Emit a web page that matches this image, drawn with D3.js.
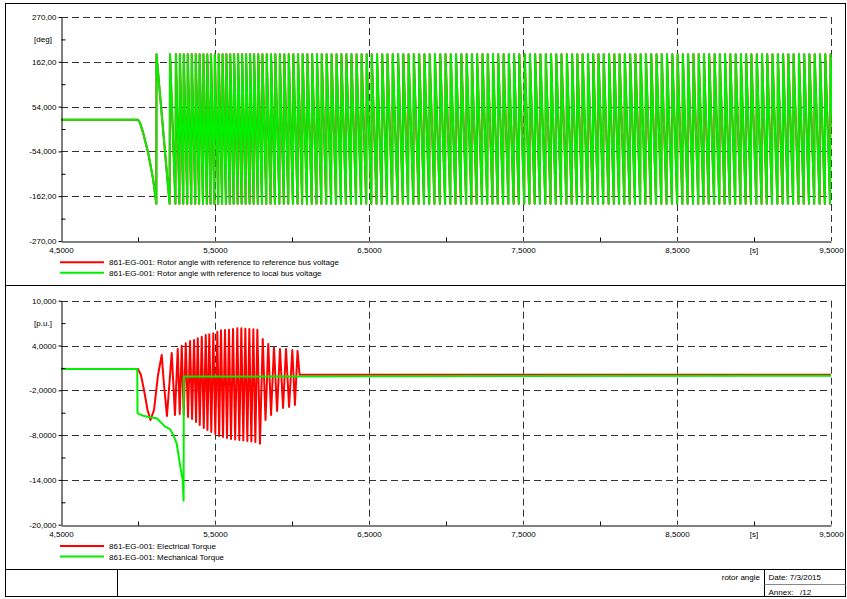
<!DOCTYPE html>
<html><head><meta charset="utf-8">
<script src="https://cdn.jsdelivr.net/npm/d3@7"></script>
<style>html,body{margin:0;padding:0;background:#fff;} svg{display:block;font-family:"Liberation Sans",Arial,sans-serif;}</style>
</head><body><svg id="c" width="847" height="599"></svg>
<script>
// ---------------- DATA ----------------
const xTicks = [4.5, 5.5, 6.5, 7.5, 8.5, 9.5];
const xTickLabels = ["4,5000", "5,5000", "6,5000", "7,5000", "8,5000", "9,5000"];
const xMinorTicks = [5.0, 6.0, 7.0, 8.0, 9.0];
const xUnitLabel = "[s]";
const xUnitAt = 9.0;

const angleTicks = [-270, -162, -54, 54, 162, 270];
const angleTickLabels = ["-270,00", "-162,00", "-54,000", "54,000", "162,00", "270,00"];
const angleMinorTicks = [-216, -108, 0, 108, 216];
const angleUnit = "[deg]";
const angleUnitAt = 216;

const torqueTicks = [-20, -14, -8, -2, 4, 10];
const torqueTickLabels = ["-20,000", "-14,000", "-8,0000", "-2,0000", "4,0000", "10,000"];
const torqueMinorTicks = [-17, -11, -5, 1, 7];
const torqueUnit = "[p.u.]";
const torqueUnitAt = 7;

// rotor angle: pre-slip part [t, deg]
const angleStart = [[4.5, 22], [5.0, 22], [5.013, 15], [5.034, -10], [5.067, -59], [5.099, -123], [5.119, -180]];
// rotor angle wraps (+180 -> descends to -180 before next wrap)
const angleWrapTimes = [5.120, 5.208, 5.246, 5.272, 5.297, 5.323, 5.349, 5.375, 5.400, 5.425, 5.450, 5.474, 5.499,
  5.524, 5.549, 5.574, 5.599, 5.624, 5.650, 5.676, 5.702, 5.728, 5.754, 5.781, 5.808, 5.836, 5.864, 5.892, 5.921,
  5.950, 5.979, 6.009, 6.039, 6.069, 6.100, 6.131, 6.162, 6.193, 6.225, 6.257, 6.289, 6.321, 6.353, 6.386, 6.419,
  6.452, 6.485, 6.518, 6.552, 6.586, 6.620, 6.654, 6.689, 6.723, 6.757, 6.791, 6.826, 6.860, 6.894, 6.928, 6.963,
  6.997, 7.031, 7.065, 7.100, 7.134, 7.168, 7.202, 7.237, 7.271, 7.305, 7.339, 7.374, 7.408, 7.442, 7.476, 7.511,
  7.545, 7.579, 7.613, 7.648, 7.682, 7.716, 7.750, 7.785, 7.819, 7.853, 7.887, 7.922, 7.956, 7.990, 8.024, 8.059,
  8.093, 8.127, 8.161, 8.196, 8.230, 8.264, 8.298, 8.333, 8.367, 8.401, 8.435, 8.470, 8.504, 8.538, 8.572, 8.607,
  8.641, 8.675, 8.709, 8.744, 8.778, 8.812, 8.846, 8.881, 8.915, 8.949, 8.983, 9.018, 9.052, 9.086, 9.120, 9.155,
  9.189, 9.223, 9.257, 9.292, 9.326, 9.360, 9.394, 9.429, 9.463, 9.497, 9.531];
const angleLimits = [-180, 180];

// electrical torque [t, p.u.]
const electricalTorque = [[4.5, 0.85], [5.0, 0.85], [5.019, 0.05], [5.039, -1.96], [5.062, -4.64], [5.081, -5.98],
  [5.104, -4.64], [5.130, 0.05], [5.154, 2.73], [5.169, -1.29], [5.188, -5.44], [5.219, 3.0], [5.240, -5.31],
  [5.258, 3.53], [5.271, -5.17], [5.284, 3.97], [5.297, -5.31], [5.310, 4.29], [5.325, -5.58], [5.338, 4.60],
  [5.351, -5.84], [5.364, 4.74], [5.377, -6.25], [5.388, 4.96], [5.401, -6.65], [5.414, 5.18], [5.427, -7.05],
  [5.440, 5.41], [5.451, -7.32], [5.463, 5.50], [5.476, -7.58], [5.489, 5.63], [5.502, -7.85], [5.515, 5.85],
  [5.527, -8.12], [5.539, 6.04], [5.552, -8.25], [5.565, 6.08], [5.578, -8.39], [5.591, 6.12], [5.604, -8.52],
  [5.617, 6.21], [5.631, -8.59], [5.645, 6.30], [5.658, -8.66], [5.671, 6.30], [5.684, -8.72], [5.697, 6.25],
  [5.710, -8.79], [5.723, 6.21], [5.736, -8.86], [5.749, 6.17], [5.762, -8.92], [5.775, 6.12], [5.792, -9.15],
  [5.810, 4.87], [5.828, -5.98], [5.846, 4.20], [5.864, -5.31], [5.883, 3.76], [5.903, -4.77], [5.922, 3.53],
  [5.942, -4.37], [5.961, 3.53], [5.981, -4.24], [6.002, 3.40], [6.019, -3.97], [6.036, 3.26], [6.049, 0.09],
  [9.5, 0.09]];

// mechanical torque [t, p.u.]
const mechanicalTorque = [[4.5, 0.85], [4.995, 0.85], [4.997, -5.08], [5.032, -5.4], [5.078, -5.6], [5.121, -5.75],
  [5.154, -6.4], [5.175, -6.87], [5.208, -7.2], [5.229, -7.99], [5.251, -9.1], [5.273, -12.0], [5.290, -14.0],
  [5.296, -16.8], [5.2975, -0.15], [9.5, -0.05]];

const topLegend = ["861-EG-001: Rotor angle with reference to reference bus voltage",
                   "861-EG-001: Rotor angle with reference to local bus voltage"];
const bottomLegend = ["861-EG-001: Electrical Torque", "861-EG-001: Mechanical Torque"];
const seriesColors = ["#ff0000", "#00f000"];
const footerTitle = "rotor angle";
const footerDate = "Date: 7/3/2015";
const footerAnnex = "Annex:   /12";

// ---------------- LAYOUT ----------------
const svg = d3.select("#c");
const L = 61, R = 831;
const top1 = 17, bot1 = 241, top2 = 300.7, bot2 = 524.7;
const FS = 8;
const x = d3.scaleLinear().domain([4.5, 9.5]).range([L, R]);
const yA = d3.scaleLinear().domain([-270, 270]).range([bot1, top1]);
const yT = d3.scaleLinear().domain([-20, 10]).range([bot2, top2]);

// frame
const fr = svg.append("g").attr("fill", "none").attr("stroke", "#000").attr("stroke-width", 1);
fr.append("rect").attr("x", 5.5).attr("y", 3.5).attr("width", 840).attr("height", 593);
fr.append("line").attr("x1", 5.5).attr("x2", 845.5).attr("y1", 285.5).attr("y2", 285.5);
fr.append("line").attr("x1", 5.5).attr("x2", 845.5).attr("y1", 569.5).attr("y2", 569.5);
fr.append("line").attr("x1", 117.5).attr("x2", 117.5).attr("y1", 569.5).attr("y2", 596.5);
fr.append("line").attr("x1", 764.5).attr("x2", 764.5).attr("y1", 569.5).attr("y2", 596.5);
fr.append("line").attr("x1", 764.5).attr("x2", 845.5).attr("y1", 584.5).attr("y2", 584.5).attr("stroke", "#888");

svg.append("text").attr("x", 760).attr("y", 580).attr("text-anchor", "end").attr("font-size", FS).text(footerTitle);
svg.append("text").attr("x", 768.5).attr("y", 580).attr("font-size", FS).text(footerDate);
svg.append("text").attr("x", 768.5).attr("y", 595).attr("font-size", FS).style("white-space", "pre").attr("xml:space", "preserve").text(footerAnnex);

function panel(y, top, bot, ticks, labels, minor, unit, unitAt, series, legend, legendY, id) {
  const g = svg.append("g");
  // grid
  const grid = g.append("g").attr("stroke", "#333").attr("stroke-width", 1).attr("stroke-dasharray", "7,4");
  ticks.slice(1).forEach(v => {
    grid.append("line").attr("x1", L).attr("x2", R).attr("y1", Math.round(y(v)) + 0.5).attr("y2", Math.round(y(v)) + 0.5);
  });
  xTicks.slice(1).forEach(v => {
    grid.append("line").attr("x1", Math.round(x(v)) + 0.5).attr("x2", Math.round(x(v)) + 0.5).attr("y1", top).attr("y2", bot);
  });
  // series
  g.append("clipPath").attr("id", "clip" + id).append("rect").attr("x", L).attr("y", top - 2).attr("width", R - L + 1).attr("height", bot - top + 4);
  const line = d3.line().x(d => x(d[0])).y(d => y(d[1]));
  series.forEach((s, i) => {
    g.append("path").attr("d", line(s)).attr("fill", "none").attr("stroke", seriesColors[i])
      .attr("stroke-width", 2).attr("stroke-linejoin", "round").attr("clip-path", "url(#clip" + id + ")");
  });
  // axes
  const ya = g.append("g").attr("transform", `translate(${L + 0.5},0)`)
    .call(d3.axisLeft(y).tickValues(ticks).tickFormat((d, i) => labels[i]).tickSizeInner(3).tickSizeOuter(0).tickPadding(2));
  ya.append("g").call(d3.axisLeft(y).tickValues(minor).tickFormat("").tickSizeInner(-4).tickSizeOuter(0)).select(".domain").remove();
  const xa = g.append("g").attr("transform", `translate(0,${Math.round(bot) + 0.5})`)
    .call(d3.axisBottom(x).tickValues(xTicks).tickFormat((d, i) => xTickLabels[i]).tickSizeInner(0).tickSizeOuter(0).tickPadding(6));
  xa.append("g").call(d3.axisBottom(x).tickValues(xMinorTicks).tickFormat("").tickSizeInner(-4).tickSizeOuter(0)).select(".domain").remove();
  [ya, xa].forEach(a => {
    a.selectAll("text").attr("font-size", FS).attr("font-family", "Liberation Sans, Arial, sans-serif").attr("fill", "#000");
    a.selectAll("path,line").attr("stroke", "#000");
  });
  g.append("text").attr("x", x(xUnitAt)).attr("y", bot + 12).attr("text-anchor", "middle").attr("font-size", FS).text(xUnitLabel);
  g.append("text").attr("x", 43).attr("y", y(unitAt) + 3).attr("text-anchor", "middle").attr("font-size", FS).text(unit);
  // legend
  legend.forEach((t, i) => {
    const ly = legendY + i * 10.5;
    g.append("line").attr("x1", 60).attr("x2", 104).attr("y1", ly).attr("y2", ly).attr("stroke", seriesColors[i]).attr("stroke-width", 2);
    g.append("text").attr("x", 109).attr("y", ly + 3).attr("font-size", FS).text(t);
  });
}

// build rotor angle series from read values
const anglePts = angleStart.slice();
for (let i = 0; i < angleWrapTimes.length - 1; i++) {
  anglePts.push([angleWrapTimes[i], angleLimits[1]]);
  anglePts.push([angleWrapTimes[i + 1] - 0.003, angleLimits[0]]);
}

panel(yA, top1, bot1, angleTicks, angleTickLabels, angleMinorTicks, angleUnit, angleUnitAt,
      [anglePts, anglePts], topLegend, 262.3, "a");
panel(yT, top2, bot2, torqueTicks, torqueTickLabels, torqueMinorTicks, torqueUnit, torqueUnitAt,
      [electricalTorque, mechanicalTorque], bottomLegend, 546, "t");
</script></body></html>
